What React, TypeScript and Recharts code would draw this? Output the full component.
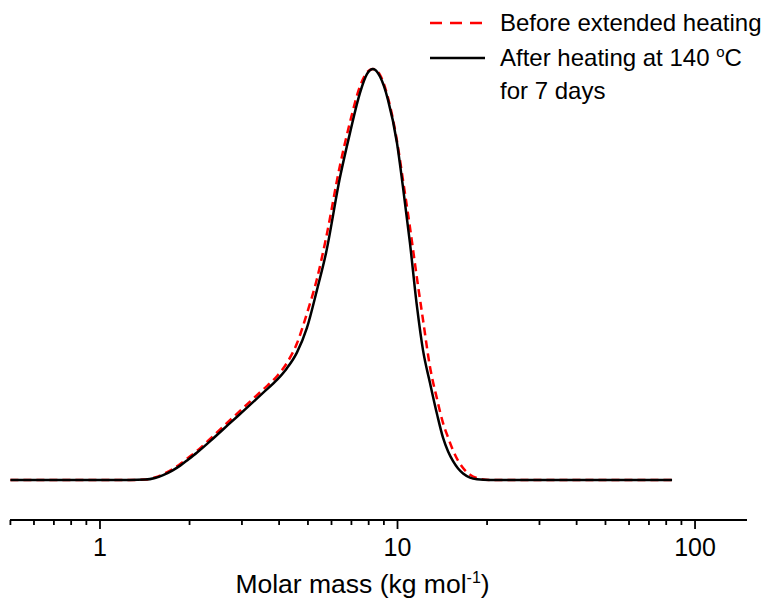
import { LineChart, Line, XAxis, YAxis, Legend } from 'recharts'

// molar mass (kg/mol)
const massKg = [
  0.5, 0.68, 1.0, 1.26, 1.42, 1.53, 1.63, 1.75, 1.86, 1.98, 2.12, 2.4, 2.74, 3.12, 3.53,
  3.94, 4.25, 4.59, 4.96, 5.36, 5.75, 6.41, 6.92, 7.48, 7.9, 8.27, 8.74, 9.29, 9.96,
  10.43, 11.01, 11.63, 12.18, 12.86, 13.58, 14.22, 14.78, 15.37, 15.98, 16.61, 17.53,
  18.5, 20.46, 25.8, 47.9, 83.7,
]

// normalised signal, before extended heating (red dashed)
const beforeHeating = [
  0, 0, 0, 0, 0.001, 0.006, 0.014, 0.026, 0.039, 0.054, 0.071, 0.107, 0.146, 0.184, 0.22,
  0.253, 0.285, 0.332, 0.405, 0.489, 0.588, 0.766, 0.87, 0.958, 0.992, 1.0, 0.985, 0.93,
  0.825, 0.73, 0.615, 0.49, 0.39, 0.275, 0.197, 0.139, 0.104, 0.072, 0.047, 0.029, 0.013,
  0.005, 0, 0, 0, 0,
]

// normalised signal, after 7 days at 140 C (black)
const afterHeating = [
  0, 0, 0, 0, 0.001, 0.005, 0.012, 0.023, 0.035, 0.05, 0.067, 0.101, 0.139, 0.176, 0.212,
  0.244, 0.272, 0.31, 0.37, 0.462, 0.552, 0.737, 0.844, 0.942, 0.988, 1.0, 0.981, 0.925,
  0.82, 0.713, 0.577, 0.421, 0.316, 0.236, 0.16, 0.103, 0.07, 0.046, 0.028, 0.016, 0.006,
  0.002, 0, 0, 0, 0,
]

const majorTicks = [1, 10, 100]
const minorTicks = [0.5, 0.6, 0.7, 0.8, 0.9, 2, 3, 4, 5, 6, 7, 8, 9, 20, 30, 40, 50, 60, 70, 80, 90]
const legendOrder = ['before', 'after']

const data = massKg.map((m, i) => ({
  mass: m,
  before: beforeHeating[i],
  after: afterHeating[i],
}))

const FONT = '"Liberation Sans", Arial, sans-serif'

function MassTick({ x, y, payload }: any) {
  const major = majorTicks.includes(payload.value)
  return (
    <g>
      <line x1={x} x2={x} y1={y} y2={y + (major ? 9 : 5)} stroke="#000" strokeWidth={1.8} />
      {major && (
        <text x={x} y={y + 36} textAnchor="middle" fontSize={25} fontFamily={FONT} fill="#000">
          {payload.value}
        </text>
      )}
    </g>
  )
}

function AxisTitle({ viewBox }: any) {
  const { x, y, width } = viewBox
  return (
    <text x={x + width / 2 - 16} y={y + 73} textAnchor="middle" fontSize={26.5} fontFamily={FONT} fill="#000">
      Molar mass (kg mol
      <tspan dy={-10} fontSize={16}>-1</tspan>
      <tspan dy={10}>)</tspan>
    </text>
  )
}

function withDegree(line: string) {
  const parts = line.split('°')
  if (parts.length === 1) return line
  return (
    <>
      {parts[0]}
      <span style={{ fontSize: 15, position: 'relative', top: -9 }}>o</span>
      {parts[1]}
    </>
  )
}

function HeatingLegend({ payload }: any) {
  const items = [...(payload || [])].sort(
    (a: any, b: any) => legendOrder.indexOf(a.dataKey) - legendOrder.indexOf(b.dataKey),
  )
  return (
    <div style={{ fontFamily: FONT, fontSize: 24, color: '#000' }}>
      {items.map((entry: any, i: number) => (
        <div key={i} style={{ display: 'flex', alignItems: 'flex-start', marginBottom: 5 }}>
          <svg width={70} height={30} style={{ flex: 'none' }}>
            <line
              x1={0}
              x2={55}
              y1={15}
              y2={15}
              stroke={entry.color}
              strokeWidth={2.5}
              strokeDasharray={entry.payload?.strokeDasharray ? '12 8' : undefined}
            />
          </svg>
          <div style={{ lineHeight: '30px', whiteSpace: 'nowrap' }}>
            {String(entry.value)
              .split('\n')
              .map((ln, j) => (
                <div key={j}>{withDegree(ln)}</div>
              ))}
          </div>
        </div>
      ))}
    </div>
  )
}

export default function App() {
  return (
    <div>
      <style>{'body{margin:0}'}</style>
      <LineChart width={781} height={601} data={data} margin={{ top: 20, right: 34, left: 10, bottom: 0 }}>
        <XAxis
          dataKey="mass"
          type="number"
          scale="log"
          domain={[0.4984, 149.5]}
          allowDataOverflow
          ticks={[...minorTicks, ...majorTicks].sort((a, b) => a - b)}
          interval={0}
          tick={<MassTick />}
          tickLine={false}
          tickSize={0}
          tickMargin={0}
          axisLine={{ stroke: '#000', strokeWidth: 1.8 }}
          height={81}
          label={{ content: <AxisTitle /> }}
        />
        <YAxis hide type="number" domain={[-0.0973, 1.1192]} allowDataOverflow />
        <Legend
          layout="vertical"
          align="center"
          verticalAlign="middle"
          wrapperStyle={{ top: 8, left: 430, width: 351 }}
          content={<HeatingLegend />}
        />
        <Line
          type="monotone"
          dataKey="before"
          name="Before extended heating"
          stroke="#ff0000"
          strokeWidth={2.5}
          strokeDasharray="8 5"
          dot={false}
          isAnimationActive={false}
        />
        <Line
          type="monotone"
          dataKey="after"
          name={'After heating at 140 °C\nfor 7 days'}
          stroke="#000000"
          strokeWidth={2.5}
          dot={false}
          isAnimationActive={false}
        />
      </LineChart>
    </div>
  )
}
